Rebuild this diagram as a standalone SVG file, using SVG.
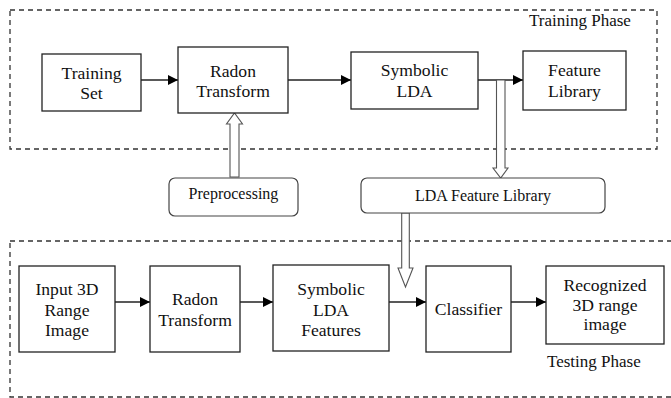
<svg xmlns="http://www.w3.org/2000/svg" width="671" height="398" viewBox="0 0 671 398">
<defs>
<marker id="ah" markerWidth="10" markerHeight="10" refX="10" refY="5" orient="auto" markerUnits="userSpaceOnUse">
<path d="M0,0 L10,5 L0,10 Z" fill="#000"/>
</marker>
<style>
.box{fill:#fff;stroke:#222;stroke-width:1.3}
.rbox{fill:#fff;stroke:#444;stroke-width:1.2}
.dash{fill:none;stroke:#333;stroke-width:1.3;stroke-dasharray:5,4}
.t{font-size:17.6px;text-anchor:middle;fill:#111}
.s{font-size:16px;text-anchor:middle;fill:#111}
.lbl{font-size:17px;fill:#111}
.ln{stroke:#222;stroke-width:1.6;fill:none}
.hollow{fill:#fff;stroke:#555;stroke-width:1.1}
</style>
</defs>
<rect fill="#fff" width="671" height="398"/>
<g font-family="Liberation Serif, Times New Roman, serif">
<g id="training-phase">
<rect class="dash" x="10" y="10" width="647" height="139"/>
<text class="lbl" x="529" y="26">Training Phase</text>
</g>
<g id="testing-phase">
<rect class="dash" x="10" y="241" width="680" height="156"/>
<text class="lbl" x="547" y="367">Testing Phase</text>
</g>
<g id="connectors">
<line class="ln" x1="141" y1="80" x2="178" y2="80" marker-end="url(#ah)"/>
<line class="ln" x1="288" y1="80" x2="351" y2="80" marker-end="url(#ah)"/>
<line class="ln" x1="478" y1="80" x2="523" y2="80" marker-end="url(#ah)"/>
<line class="ln" x1="115" y1="302" x2="150" y2="302" marker-end="url(#ah)"/>
<line class="ln" x1="240" y1="302" x2="273" y2="302" marker-end="url(#ah)"/>
<line class="ln" x1="389" y1="302" x2="426" y2="302" marker-end="url(#ah)"/>
<line class="ln" x1="511" y1="302" x2="546" y2="302" marker-end="url(#ah)"/>
<polygon class="hollow" points="230,177 230,124 226.5,124 234.5,113 242.5,124 239,124 239,177"/>
<polygon class="hollow" points="496.5,80 505,80 505,168 508,168 500.7,178 493,168 496.5,168"/>
<polygon class="hollow" points="401.7,213 409.3,213 409.3,268 413,268 405.5,287 398,268 401.7,268"/>
</g>
<g id="training-set">
<rect class="box" x="42" y="54" width="99" height="57"/>
<text class="t" x="91.5" y="79">Training</text>
<text class="t" x="91.5" y="99">Set</text>
</g>
<g id="radon-transform-1">
<rect class="box" x="178" y="47" width="110" height="66"/>
<text class="t" x="233" y="77">Radon</text>
<text class="t" x="233" y="97">Transform</text>
</g>
<g id="symbolic-lda">
<rect class="box" x="351" y="52" width="127" height="57"/>
<text class="t" x="414.5" y="76">Symbolic</text>
<text class="t" x="414.5" y="97">LDA</text>
</g>
<g id="feature-library">
<rect class="box" x="523" y="51" width="103" height="59"/>
<text class="t" x="574.5" y="76">Feature</text>
<text class="t" x="574.5" y="97">Library</text>
</g>
<g id="preprocessing">
<rect class="rbox" x="169" y="178" width="129" height="38" rx="6"/>
<text class="s" x="233.5" y="199">Preprocessing</text>
</g>
<g id="lda-feature-library">
<rect class="rbox" x="361" y="178" width="244" height="35" rx="6"/>
<text class="s" x="483" y="201">LDA Feature Library</text>
</g>
<g id="input-image">
<rect class="box" x="19" y="266" width="96" height="86"/>
<text class="t" x="67" y="295">Input 3D</text>
<text class="t" x="67" y="316">Range</text>
<text class="t" x="67" y="336">Image</text>
</g>
<g id="radon-transform-2">
<rect class="box" x="150" y="266" width="90" height="86"/>
<text class="t" x="195" y="305">Radon</text>
<text class="t" x="195" y="326">Transform</text>
</g>
<g id="symbolic-lda-features">
<rect class="box" x="273" y="265" width="116" height="86"/>
<text class="t" x="331" y="295">Symbolic</text>
<text class="t" x="331" y="316">LDA</text>
<text class="t" x="331" y="336">Features</text>
</g>
<g id="classifier">
<rect class="box" x="426" y="266" width="85" height="86"/>
<text class="t" x="468.5" y="315">Classifier</text>
</g>
<g id="recognized">
<rect class="box" x="546" y="266" width="118" height="78"/>
<text class="t" x="605" y="291">Recognized</text>
<text class="t" x="605" y="311">3D range</text>
<text class="t" x="605" y="330">image</text>
</g>
</g>
</svg>
